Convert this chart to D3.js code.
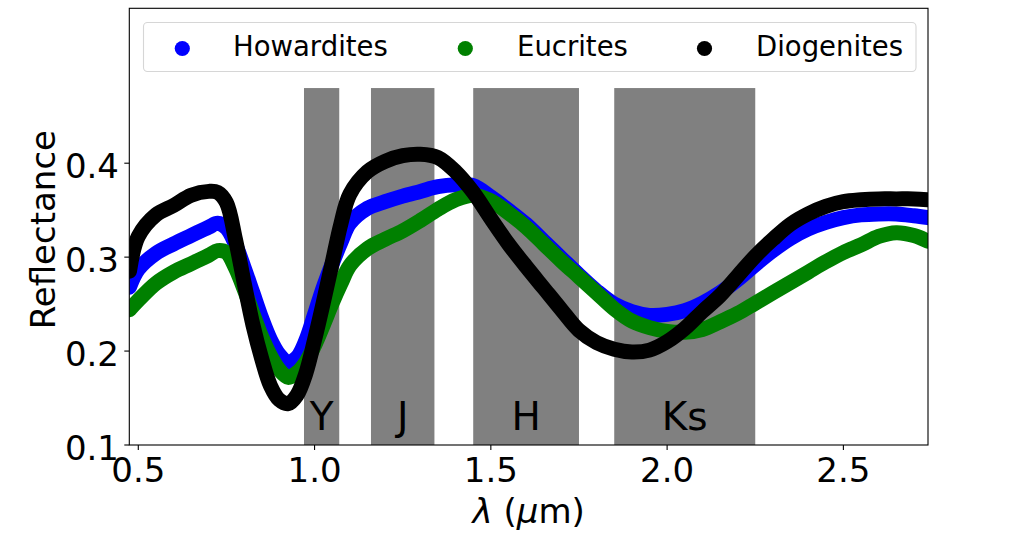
<!DOCTYPE html>
<html>
<head>
<meta charset="utf-8">
<script src="https://cdn.jsdelivr.net/npm/d3@7/dist/d3.min.js"></script>
<style>
  html, body { margin: 0; padding: 0; background: #fff; }
  svg text { font-family: "DejaVu Sans", sans-serif; fill: #000; }
</style>
</head>
<body>
<div id="chart"></div>
<script>
// ---- Data ----
var wavelength = [
  0.475, 0.5, 0.55, 0.6, 0.65, 0.7, 0.725, 0.75, 0.775, 0.8, 0.825, 0.85,
  0.875, 0.9, 0.925, 0.95, 0.975, 1.0, 1.025, 1.05, 1.075, 1.1, 1.15, 1.2,
  1.25, 1.3, 1.35, 1.4, 1.45, 1.5, 1.55, 1.6, 1.65, 1.7, 1.75, 1.8, 1.85,
  1.9, 1.95, 2.0, 2.05, 2.1, 2.15, 2.2, 2.25, 2.3, 2.35, 2.4, 2.45, 2.5,
  2.55, 2.6, 2.65, 2.7, 2.74
];

var howardites = [
  0.268, 0.287, 0.304, 0.314, 0.323, 0.332, 0.336, 0.331, 0.314, 0.289, 0.262, 0.235,
  0.212, 0.196, 0.188, 0.193, 0.211, 0.239, 0.268, 0.293, 0.316, 0.336, 0.352, 0.359,
  0.365, 0.370, 0.375, 0.377, 0.376, 0.364, 0.350, 0.335, 0.317, 0.299, 0.281, 0.264, 0.250,
  0.242, 0.238, 0.239, 0.243, 0.251, 0.262, 0.276, 0.292, 0.307, 0.320, 0.330, 0.337, 0.342,
  0.345, 0.346, 0.346, 0.344, 0.342
];

var eucrites = [
  0.244, 0.254, 0.272, 0.284, 0.293, 0.302, 0.307, 0.305, 0.289, 0.266, 0.240, 0.215,
  0.195, 0.180, 0.172, 0.177, 0.188, 0.206, 0.228, 0.251, 0.272, 0.291, 0.309, 0.319,
  0.328, 0.339, 0.351, 0.361, 0.366, 0.360, 0.347, 0.332, 0.314, 0.296, 0.279, 0.262, 0.245,
  0.232, 0.225, 0.221, 0.220, 0.223, 0.231, 0.240, 0.251, 0.262, 0.273, 0.284, 0.295, 0.305,
  0.313, 0.322, 0.326, 0.323, 0.317
];

var diogenites = [
  0.285, 0.322, 0.345, 0.355, 0.366, 0.370, 0.369, 0.358, 0.320, 0.273, 0.228, 0.192,
  0.163, 0.148, 0.144, 0.153, 0.176, 0.212, 0.252, 0.294, 0.336, 0.367, 0.391, 0.402,
  0.408, 0.4095, 0.406, 0.391, 0.369, 0.341, 0.314, 0.290, 0.267, 0.244, 0.222, 0.209, 0.202,
  0.199, 0.201, 0.210, 0.224, 0.242, 0.259, 0.280, 0.301, 0.319, 0.335, 0.346, 0.354, 0.359,
  0.361, 0.362, 0.362, 0.362, 0.361
];

var seriesNames = ['Howardites', 'Eucrites', 'Diogenites'];
var seriesColors = ['#0000ff', '#008000', '#000000'];

// photometric bands (µm)
var bandNames = ['Y', 'J', 'H', 'Ks'];
var bandStart = [0.97, 1.16, 1.45, 1.85];
var bandEnd = [1.07, 1.34, 1.75, 2.25];
var bandTop = 0.48;

var xTicks = [0.5, 1.0, 1.5, 2.0, 2.5];
var yTicks = [0.1, 0.2, 0.3, 0.4];

// ---- Layout ----
var W = 1031, H = 543;
var plot = { left: 129.3, right: 928, top: 8.3, bottom: 445 };

var svg = d3.select('#chart').append('svg')
  .attr('width', W)
  .attr('height', H);

var x = d3.scaleLinear().domain([0.4745, 2.74]).range([plot.left, plot.right]);
var y = d3.scaleLinear().domain([0.1, 0.5649]).range([plot.bottom, plot.top]);

svg.append('defs').append('clipPath').attr('id', 'plot-clip')
  .append('rect')
  .attr('x', plot.left).attr('y', plot.top)
  .attr('width', plot.right - plot.left)
  .attr('height', plot.bottom - plot.top);

var g = svg.append('g').attr('clip-path', 'url(#plot-clip)');

// bands
g.selectAll('.band')
  .data(bandNames)
  .enter().append('rect')
  .attr('class', 'band')
  .attr('x', function (d, i) { return x(bandStart[i]); })
  .attr('width', function (d, i) { return x(bandEnd[i]) - x(bandStart[i]); })
  .attr('y', y(bandTop))
  .attr('height', y(0.1) - y(bandTop) + 2)
  .attr('fill', '#808080');

g.selectAll('.band-label')
  .data(bandNames)
  .enter().append('text')
  .attr('class', 'band-label')
  .attr('x', function (d, i) { return x((bandStart[i] + bandEnd[i]) / 2); })
  .attr('y', y(0.116))
  .attr('text-anchor', 'middle')
  .style('font-size', '39px')
  .text(function (d) { return d; });

// spectra
var allSeries = [howardites, eucrites, diogenites];
var line = d3.line()
  .x(function (d, i) { return x(wavelength[i]); })
  .y(function (d) { return y(d); })
  .curve(d3.curveCatmullRom.alpha(0.5));

g.selectAll('.spectrum')
  .data(allSeries)
  .enter().append('path')
  .attr('class', 'spectrum')
  .attr('d', line)
  .attr('fill', 'none')
  .attr('stroke', function (d, i) { return seriesColors[i]; })
  .attr('stroke-width', 15)
  .attr('stroke-linecap', 'round')
  .attr('stroke-linejoin', 'round');

// frame
svg.append('rect')
  .attr('x', plot.left).attr('y', plot.top)
  .attr('width', plot.right - plot.left)
  .attr('height', plot.bottom - plot.top)
  .attr('fill', 'none')
  .attr('stroke', '#000')
  .attr('stroke-width', 1.1);

// x axis
var xAxis = svg.append('g');
xAxis.selectAll('line')
  .data(xTicks)
  .enter().append('line')
  .attr('x1', function (d) { return x(d); })
  .attr('x2', function (d) { return x(d); })
  .attr('y1', plot.bottom)
  .attr('y2', plot.bottom + 5)
  .attr('stroke', '#000')
  .attr('stroke-width', 1.1);
xAxis.selectAll('text')
  .data(xTicks)
  .enter().append('text')
  .attr('x', function (d) { return x(d); })
  .attr('y', 481.5)
  .attr('text-anchor', 'middle')
  .style('font-size', '34px')
  .text(function (d) { return d3.format('.1f')(d); });

// y axis
var yAxis = svg.append('g');
yAxis.selectAll('line')
  .data(yTicks)
  .enter().append('line')
  .attr('x1', plot.left - 5)
  .attr('x2', plot.left)
  .attr('y1', function (d) { return y(d); })
  .attr('y2', function (d) { return y(d); })
  .attr('stroke', '#000')
  .attr('stroke-width', 1.1);
yAxis.selectAll('text')
  .data(yTicks)
  .enter().append('text')
  .attr('x', 119)
  .attr('y', function (d) { return y(d) + 15; })
  .attr('text-anchor', 'end')
  .style('font-size', '34px')
  .text(function (d) { return d3.format('.1f')(d); });

// axis titles
var xTitle = svg.append('text')
  .attr('x', (plot.left + plot.right) / 2)
  .attr('y', 523)
  .attr('text-anchor', 'middle')
  .style('font-size', '34px');
xTitle.append('tspan').style('font-style', 'italic').text('λ');
xTitle.append('tspan').text(' (');
xTitle.append('tspan').style('font-style', 'italic').text('μ');
xTitle.append('tspan').text('m)');

svg.append('text')
  .attr('transform', 'translate(55,' + ((plot.top + plot.bottom) / 2 + 3) + ') rotate(-90)')
  .attr('text-anchor', 'middle')
  .style('font-size', '34px')
  .text('Reflectance');

// legend
var legend = svg.append('g');
legend.append('rect')
  .attr('x', 143.5).attr('y', 22.5)
  .attr('width', 772.5).attr('height', 49)
  .attr('rx', 4)
  .attr('fill', '#fff')
  .attr('stroke', '#d6d6d6')
  .attr('stroke-width', 1.1);

var legendMarkerX = [182.3, 465.3, 704.5];
var legendTextX = [233, 517, 756];

legend.selectAll('circle')
  .data(seriesNames)
  .enter().append('circle')
  .attr('cx', function (d, i) { return legendMarkerX[i]; })
  .attr('cy', 48.5)
  .attr('r', 7.6)
  .attr('fill', function (d, i) { return seriesColors[i]; });

legend.selectAll('text')
  .data(seriesNames)
  .enter().append('text')
  .attr('x', function (d, i) { return legendTextX[i]; })
  .attr('y', 55.5)
  .style('font-size', '27.5px')
  .text(function (d) { return d; });
</script>
</body>
</html>
